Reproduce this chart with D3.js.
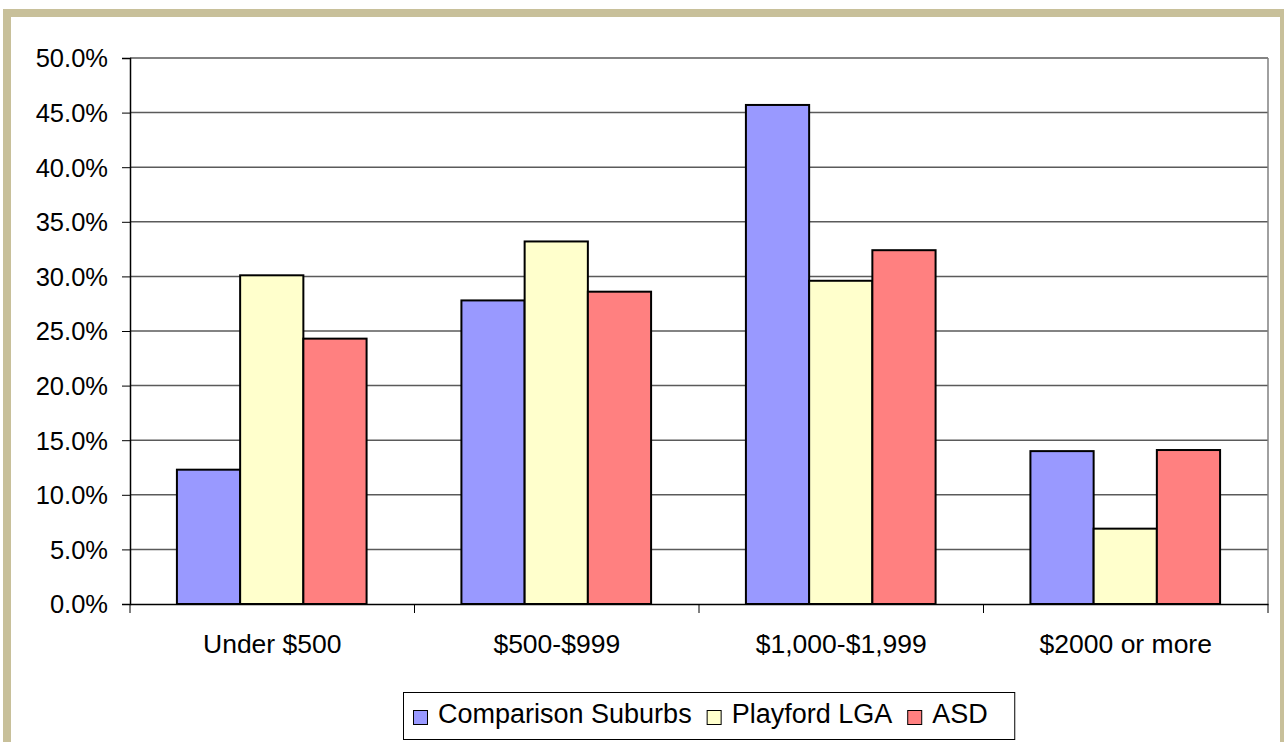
<!DOCTYPE html>
<html>
<head>
<meta charset="utf-8">
<script src="https://cdn.jsdelivr.net/npm/d3@7"></script>
<style>
  body { margin: 0; background: #fff; }
  text { font-family: "Liberation Sans", Arial, sans-serif; fill: #000; }
</style>
</head>
<body>
<script>
const categories = ["Under $500", "$500-$999", "$1,000-$1,999", "$2000 or more"];
const seriesNames = ["Comparison Suburbs", "Playford LGA", "ASD"];
const seriesColors = ["#9999FF", "#FFFFCC", "#FF8080"];
const comparisonSuburbs = [12.3, 27.8, 45.7, 14.0];
const playfordLGA = [30.1, 33.2, 29.6, 6.9];
const asd = [24.3, 28.6, 32.4, 14.1];
const yTicks = [0, 5, 10, 15, 20, 25, 30, 35, 40, 45, 50];

const seriesValues = [comparisonSuburbs, playfordLGA, asd];

const width = 1284, height = 742;
const plot = { left: 130, right: 1268, top: 58, bottom: 604 };

const svg = d3.select("body")
  .append("svg")
  .attr("width", width)
  .attr("height", height);

// outer frame
svg.append("rect")
  .attr("x", 7)
  .attr("y", 13)
  .attr("width", 1277)
  .attr("height", 760)
  .attr("fill", "none")
  .attr("stroke", "#C8C09A")
  .attr("stroke-width", 8);

const y = d3.scaleLinear().domain([0, 50]).range([plot.bottom, plot.top]);
const x0 = d3.scaleBand().domain(categories).range([plot.left, plot.right]).padding(0);
const x1 = d3.scaleBand().domain(seriesNames).range([0, x0.bandwidth()])
  .paddingInner(0).paddingOuter(0.75);

// gridlines
svg.append("g")
  .selectAll("line")
  .data(yTicks.filter(d => d > 0))
  .join("line")
  .attr("x1", plot.left)
  .attr("x2", plot.right)
  .attr("y1", d => y(d))
  .attr("y2", d => y(d))
  .attr("stroke", "#5a5a5a")
  .attr("stroke-width", 1.5);

// right border of plot area
svg.append("line")
  .attr("x1", plot.right).attr("x2", plot.right)
  .attr("y1", plot.top).attr("y2", plot.bottom)
  .attr("stroke", "#808080")
  .attr("stroke-width", 1.5);

// bars
const groups = svg.append("g")
  .selectAll("g")
  .data(categories)
  .join("g")
  .attr("transform", d => `translate(${x0(d)},0)`);

groups.selectAll("rect")
  .data((c, i) => seriesNames.map((s, j) => ({ s, j, v: seriesValues[j][i] })))
  .join("rect")
  .attr("x", d => x1(d.s) - 0.5)
  .attr("width", x1.bandwidth())
  .attr("y", d => y(d.v))
  .attr("height", d => y(0) - y(d.v))
  .attr("fill", d => seriesColors[d.j])
  .attr("stroke", "#000")
  .attr("stroke-width", 2);

// y axis
const yAxis = svg.append("g")
  .attr("transform", `translate(${plot.left},0)`)
  .call(d3.axisLeft(y).tickValues(yTicks).tickSize(8).tickPadding(14)
    .tickFormat(d => d.toFixed(1) + "%"));
yAxis.select(".domain").attr("stroke", "#000").attr("stroke-width", 1.5);
yAxis.selectAll(".tick line").attr("stroke", "#000");
yAxis.selectAll(".tick text")
  .style("font-family", "'Liberation Sans', Arial, sans-serif")
  .style("font-size", "25.5px")
  .attr("dy", "0.35em");

// x axis
const xAxis = svg.append("g")
  .attr("transform", `translate(0,${plot.bottom})`)
  .call(d3.axisBottom(x0).tickSize(0).tickPadding(0));
xAxis.select(".domain").attr("stroke", "#000").attr("stroke-width", 1.5);
xAxis.selectAll(".tick text")
  .style("font-family", "'Liberation Sans', Arial, sans-serif")
  .style("font-size", "26.5px")
  .attr("y", 49)
  .attr("dy", 0);

// category boundary ticks
svg.append("g")
  .selectAll("line")
  .data(categories.map(c => x0(c)).concat([plot.right]))
  .join("line")
  .attr("x1", d => d).attr("x2", d => d)
  .attr("y1", plot.bottom).attr("y2", plot.bottom + 9)
  .attr("stroke", "#000")
  .attr("stroke-width", 1);

// legend
const legend = svg.append("g");
const legendBox = legend.append("rect")
  .attr("x", 403.5)
  .attr("y", 692.5)
  .attr("height", 47)
  .attr("fill", "#fff")
  .attr("stroke", "#000")
  .attr("stroke-width", 1);

let lx = 413;
seriesNames.forEach((name, i) => {
  legend.append("rect")
    .attr("x", lx + 0.5)
    .attr("y", 710.5)
    .attr("width", 14)
    .attr("height", 14)
    .attr("fill", seriesColors[i])
    .attr("stroke", "#000")
    .attr("stroke-width", 1);
  const t = legend.append("text")
    .attr("x", lx + 25)
    .attr("y", 723)
    .style("font-size", "27px")
    .text(name);
  lx += 25 + t.node().getComputedTextLength() + 15;
});
legendBox.attr("width", lx - 403.5 + 12);
</script>
</body>
</html>
